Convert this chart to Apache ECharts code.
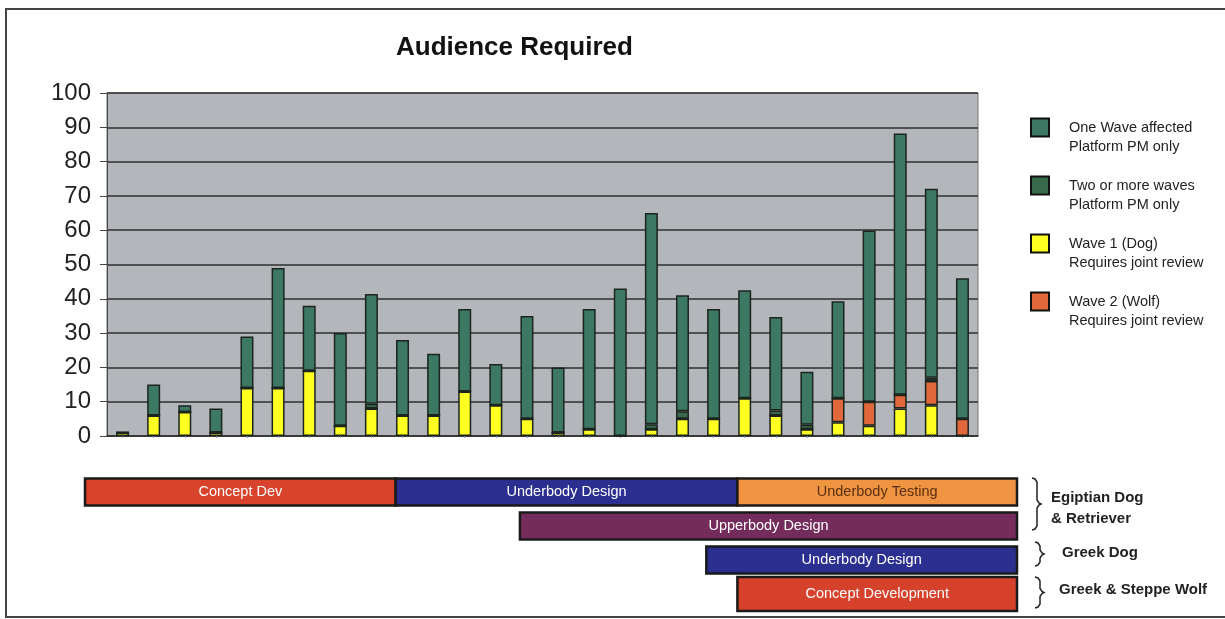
<!DOCTYPE html>
<html>
<head>
<meta charset="utf-8">
<script src="https://cdn.jsdelivr.net/npm/echarts@6/dist/echarts.min.js"></script>
<style>
  html, body { margin: 0; padding: 0; background: #fff; }
  #chart { width: 1225px; height: 619px; }
</style>
</head>
<body>
<div id="chart"></div>
<script>
// bar positions 1..28 (labels are not legible in the source)
const categories = ['1','2','3','4','5','6','7','8','9','10','11','12','13','14',
  '15','16','17','18','19','20','21','22','23','24','25','26','27','28'];

// stacked from bottom to top
const wave1Dog  = [1,6,7,1,14,14,19,3,8,6,6,13,9,5,1,2,0,2,5,5,11,6,2,4,3,8,9,0];
const wave2Wolf = [0,0,0,0,0,0,0,0,0,0,0,0,0,0,0,0,0,0,0,0,0,0,0,7,7,4,7,5];
const twoOrMore = [0,0,0,0,0,0,0,0,1.4,0,0,0,0,0,0,0,0,1.4,2.2,0,0,1.4,1.3,0,0,0,1,0];
const oneWave   = [0,9,2,7,15,35,19,27,32,22,18,24,12,30,19,35,43,61.6,33.8,32,31.5,27.3,15.4,28.3,49.9,76.2,55.1,41];

const yTicks = [0,10,20,30,40,50,60,70,80,90,100];

// schedule (time in bar slots)
const phaseNames = ['Concept Dev','Underbody Design','Underbody Testing','Upperbody Design','Underbody Design','Concept Development'];
const phaseRow   = [0,0,0,1,2,3];
const phaseStart = [0,10,21,14,20,21];
const phaseEnd   = [10,21,30,30,30,30];
const programs = ['Egiptian Dog\n& Retriever','Greek Dog','Greek & Steppe Wolf'];

const phaseColors = ['#d8432c','#2b2f8f','#ef9440','#742c5c','#2b2f8f','#d6412c'];
const phaseText   = ['#fff','#fff','#5a2e12','#fff','#fff','#fff'];

const myChart = echarts.init(document.getElementById('chart'));

// curly brace as a polyline
function brace(x, y1, y2) {
  const m = (y1 + y2) / 2, a = x + 5, t = x + 9;
  return [[x, y1], [x + 3, y1 + 1], [a, y1 + 4], [a, m - 4], [a + 2, m - 1], [t, m],
    [a + 2, m + 1], [a, m + 4], [a, y2 - 4], [x + 3, y2 - 1], [x, y2]];
}

const barBorder = { borderColor: '#1c241f', borderWidth: 1.5 };

function barSeries(name, data, color) {
  return {
    name: name,
    type: 'bar',
    stack: 'aud',
    barWidth: 13,
    xAxisIndex: 0,
    yAxisIndex: 0,
    data: data,
    itemStyle: Object.assign({ color: color }, barBorder)
  };
}

const ganttData = phaseNames.map((n, i) => [phaseRow[i], phaseStart[i], phaseEnd[i], i]);

const option = {
  backgroundColor: '#fff',
  animation: false,
  title: {
    text: 'Audience Required',
    left: 391,
    top: 30,
    textStyle: { fontFamily: 'Liberation Sans', fontSize: 26, fontWeight: 'bold', color: '#111' }
  },
  legend: {
    orient: 'vertical',
    left: 1030,
    top: 99,
    padding: 0,
    itemWidth: 18,
    itemHeight: 18,
    itemGap: 1,
    icon: 'rect',
    data: ['One Wave affected\nPlatform PM only', 'Two or more waves\nPlatform PM only',
      'Wave 1 (Dog)\nRequires joint review', 'Wave 2 (Wolf)\nRequires joint review'],
    // leading blank line keeps the swatch level with the first text line
    formatter: name => '\n' + name,
    itemStyle: { borderColor: '#111', borderWidth: 2 },
    textStyle: { fontFamily: 'Liberation Sans', fontSize: 14.5, color: '#222', lineHeight: 19, padding: [0, 0, 0, 15] }
  },
  grid: [
    { left: 107, right: 247, top: 93, bottom: 183, show: true, backgroundColor: '#b3b6ba', borderColor: '#777', borderWidth: 1 },
    { left: 85, right: 208, top: 475, height: 136 }
  ],
  xAxis: [
    {
      type: 'category', gridIndex: 0, data: categories,
      axisLine: { lineStyle: { color: '#333', width: 1.5 } },
      axisTick: { show: true, alignWithLabel: true, length: 2, lineStyle: { color: '#8a90a8' } },
      axisLabel: { show: false }
    },
    { type: 'value', gridIndex: 1, min: 0, max: 30, show: false }
  ],
  yAxis: [
    {
      type: 'value', gridIndex: 0, min: 0, max: 100, interval: 10,
      axisLine: { show: true, lineStyle: { color: '#444' } },
      axisTick: { show: true, length: 7, lineStyle: { color: '#444' } },
      axisLabel: {
        fontFamily: 'Liberation Sans', fontSize: 24, color: '#222', margin: 16,
        formatter: v => yTicks.indexOf(v) >= 0 ? String(v) : ''
      },
      splitLine: { lineStyle: { color: '#2e2e2e', width: 1.5 } }
    },
    { type: 'category', gridIndex: 1, data: ['r1','r2','r3','r4'], inverse: true, show: false }
  ],
  series: [
    barSeries('Wave 1 (Dog)\nRequires joint review', wave1Dog, '#ffff22'),
    barSeries('Wave 2 (Wolf)\nRequires joint review', wave2Wolf, '#e0683a'),
    barSeries('Two or more waves\nPlatform PM only', twoOrMore, '#3a6a4c'),
    barSeries('One Wave affected\nPlatform PM only', oneWave, '#3d7864'),
    {
      type: 'custom',
      xAxisIndex: 1,
      yAxisIndex: 1,
      data: ganttData,
      encode: { x: [1, 2], y: 0 },
      renderItem: function (params, api) {
        const row = api.value(0);
        const idx = api.value(3);
        const p0 = api.coord([api.value(1), row]);
        const p1 = api.coord([api.value(2), row]);
        const band = api.size([0, 1])[1];
        const h = row === 3 ? band * 1.0 : band * 0.8;
        return {
          type: 'rect',
          shape: { x: p0[0], y: p0[1] - h / 2, width: p1[0] - p0[0], height: h },
          style: { fill: phaseColors[idx], stroke: '#1a1a1a', lineWidth: 2.5 },
          textContent: {
            style: { text: phaseNames[idx], fill: phaseText[idx], font: '14.5px "Liberation Sans"' }
          },
          textConfig: { position: 'inside' }
        };
      }
    }
  ],
  graphic: [
    { type: 'rect', shape: { x: 6, y: 9, width: 1240, height: 608 }, style: { fill: 'none', stroke: '#444', lineWidth: 2 }, silent: true },
    { type: 'polyline', shape: { points: brace(1032, 478, 530) }, style: { fill: 'none', stroke: '#222', lineWidth: 1.5 } },
    { type: 'polyline', shape: { points: brace(1035, 542, 566) }, style: { fill: 'none', stroke: '#222', lineWidth: 1.5 } },
    { type: 'polyline', shape: { points: brace(1035, 577, 608) }, style: { fill: 'none', stroke: '#222', lineWidth: 1.5 } },
    { type: 'text', left: 1051, top: 487, style: { text: programs[0], font: 'bold 15px "Liberation Sans"', fill: '#222', lineHeight: 21 } },
    { type: 'text', left: 1062, top: 545, style: { text: programs[1], font: 'bold 15px "Liberation Sans"', fill: '#222' } },
    { type: 'text', left: 1059, top: 582, style: { text: programs[2], font: 'bold 15px "Liberation Sans"', fill: '#222' } }
  ]
};

myChart.setOption(option);
</script>
</body>
</html>
